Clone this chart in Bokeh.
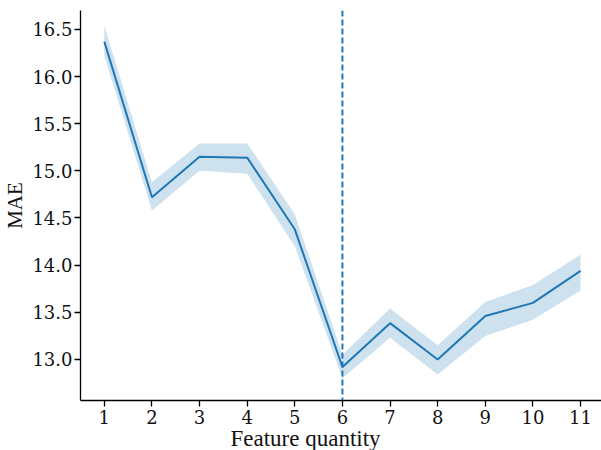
from bokeh.plotting import figure
from bokeh.models import Span, Title, FixedTicker, Range1d
from bokeh.embed import file_html
from bokeh.resources import INLINE

features = [1, 2, 3, 4, 5, 6, 7, 8, 9, 10, 11]
mae_mean = [16.37, 14.72, 15.15, 15.14, 14.38, 12.92, 13.385, 13.00, 13.46, 13.60, 13.94]
mae_upper = [16.54, 14.88, 15.29, 15.29, 14.54, 13.05, 13.54, 13.15, 13.61, 13.79, 14.11]
mae_lower = [16.22, 14.58, 15.00, 14.97, 14.20, 12.80, 13.23, 12.84, 13.25, 13.42, 13.73]
y_ticks = [13.0, 13.5, 14.0, 14.5, 15.0, 15.5, 16.0, 16.5]
y_tick_labels = ["13.0", "13.5", "14.0", "14.5", "15.0", "15.5", "16.0", "16.5"]
best_feature = 6

FONT = "Liberation Serif"
TICK_FONT = "DejaVu Serif"
BLUE = "#1f77b4"

p = figure(width=601, height=450,
           x_range=Range1d(0.5, 11.44), y_range=Range1d(12.565, 16.70),
           output_backend="svg", toolbar_location=None,
           min_border_left=79, min_border_right=0, min_border_top=10, min_border_bottom=50)

p.varea(x=features, y1=mae_lower, y2=mae_upper, fill_color=BLUE, fill_alpha=0.22)
p.line(x=features, y=mae_mean, line_color=BLUE, line_width=2)

p.add_layout(Span(location=best_feature, dimension="height", line_color=BLUE,
                  line_width=2, line_dash="6 3"))

p.grid.visible = False
p.outline_line_color = None
p.background_fill_color = "white"
p.border_fill_color = "white"

xa = p.xaxis[0]
ya = p.yaxis[0]
for ax in (xa, ya):
    ax.axis_line_color = "black"
    ax.axis_line_width = 1.3
    ax.major_tick_line_color = "black"
    ax.major_tick_line_width = 1.3
    ax.major_tick_out = 6
    ax.major_tick_in = 0
    ax.minor_tick_line_color = None
    ax.major_label_text_font = TICK_FONT
    ax.major_label_text_font_size = "18px"
    ax.major_label_text_font_style = "normal"
    ax.major_label_text_color = "#111111"

xa.ticker = FixedTicker(ticks=features)
xa.major_label_standoff = 3
ya.ticker = FixedTicker(ticks=y_ticks)
ya.major_label_overrides = {t: lab for t, lab in zip(y_ticks, y_tick_labels)}
ya.major_label_standoff = 2

ya.axis_label = "MAE"
ya.axis_label_text_font = FONT
ya.axis_label_text_font_size = "21px"
ya.axis_label_text_font_style = "normal"
ya.axis_label_text_color = "#111111"
ya.axis_label_standoff = 2

p.add_layout(Title(text="Feature quantity", align="left", offset=150, standoff=-6,
                   text_font=FONT, text_font_size="23px", text_font_style="normal",
                   text_color="#111111"), "below")

open("out.html", "w").write(file_html(p, INLINE))
